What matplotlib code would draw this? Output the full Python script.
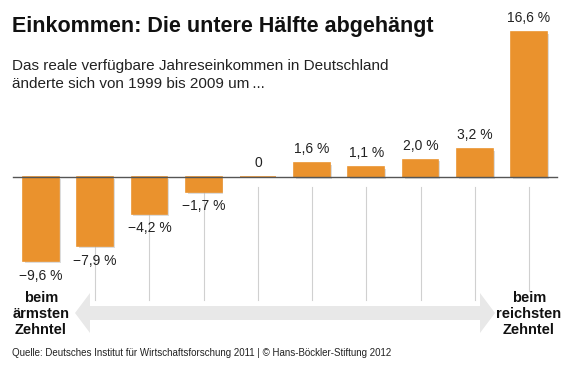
import matplotlib
matplotlib.use('Agg')
import matplotlib.pyplot as plt
from matplotlib.patches import Polygon

plt.rcParams['font.family'] = ['Liberation Sans', 'DejaVu Sans']

# data
deciles = [1, 2, 3, 4, 5, 6, 7, 8, 9, 10]
change = [-9.6, -7.9, -4.2, -1.7, 0.0, 1.6, 1.1, 2.0, 3.2, 16.6]
value_labels = ['\u22129,6 %', '\u22127,9 %', '\u22124,2 %', '\u22121,7 %', '0',
                '1,6 %', '1,1 %', '2,0 %', '3,2 %', '16,6 %']
tick_labels = ['2', '3', '4', '5', '6', '7', '8', '9']

W, H = 576, 366
ORANGE = '#EA922D'

fig = plt.figure(figsize=(W / 100, H / 100), dpi=100)
ax = fig.add_axes([0, 0, 1, 1])
ax.set_xlim(0.2438, 0.2438 + W / 54.22)
ax.set_ylim(-(H - 177) / 8.75, 177 / 8.75)
ax.axis('off')


def px(x, y):
    # figure pixel (from top-left) -> figure fraction
    return x / W, 1 - y / H


# arrow in the background
band = [(90, 306), (480, 306), (480, 293), (495, 313), (480, 333), (480, 320),
        (90, 320), (90, 333), (75, 313), (90, 293)]
fig.patches.append(Polygon([px(*p) for p in band], closed=True,
                           transform=fig.transFigure, facecolor='#e8e8e8',
                           edgecolor='none', zorder=0))

# thin gray guide lines
for d in deciles[1:]:
    ax.plot([d, d], [-1.15, -14.0 if d < 10 else -13.0], color='#d0d0d0', lw=0.8, zorder=1)

# shadows then bars
ax.bar([d + 0.035 for d in deciles], change, width=0.66, bottom=[-0.2] * 10,
       color='#bbbbbb', alpha=0.5, zorder=2)
ax.bar(deciles, change, width=0.66, color=ORANGE, edgecolor=ORANGE,
       linewidth=1.2, zorder=3)
ax.axhline(0, xmin=13 / W, xmax=557 / W, color='#555555', lw=1.0, zorder=4)

for d, v, lab in zip(deciles, change, value_labels):
    if v < 0:
        ax.annotate(lab, (d, v), xytext=(0, -10.5), textcoords='offset points',
                    ha='center', va='center', fontsize=10, color='#222222')
    else:
        ax.annotate(lab, (d, v), xytext=(0, 10), textcoords='offset points',
                    ha='center', va='center', fontsize=10, color='#222222')

for d, t in zip(deciles[1:9], tick_labels):
    ax.text(d, -(314 - 177) / 8.75, t, ha='center', va='center',
            fontsize=9.5, color='#666666')

ax.text(1, -(314 - 177) / 8.75, 'beim\närmsten\nZehntel', ha='center', va='center',
        fontsize=10.5, fontweight='bold', color='#111111', linespacing=1.2)
ax.text(10, -(314 - 177) / 8.75, 'beim\nreichsten\nZehntel', ha='center', va='center',
        fontsize=10.5, fontweight='bold', color='#111111', linespacing=1.2)

fig.text(*px(12, 32), 'Einkommen: Die untere Hälfte abgehängt', fontsize=15.5,
         fontweight='bold', color='#111111', va='baseline')
fig.text(*px(12, 70), 'Das reale verfügbare Jahreseinkommen in Deutschland',
         fontsize=11, color='#222222', va='baseline')
fig.text(*px(12, 88), 'änderte sich von 1999 bis 2009 um\u2009...',
         fontsize=11, color='#222222', va='baseline')
fig.text(*px(12, 356), 'Quelle: Deutsches Institut für Wirtschaftsforschung 2011 | '
         '© Hans-Böckler-Stiftung 2012', fontsize=7, color='#222222', va='baseline')

fig.savefig('out.png', dpi=100)
